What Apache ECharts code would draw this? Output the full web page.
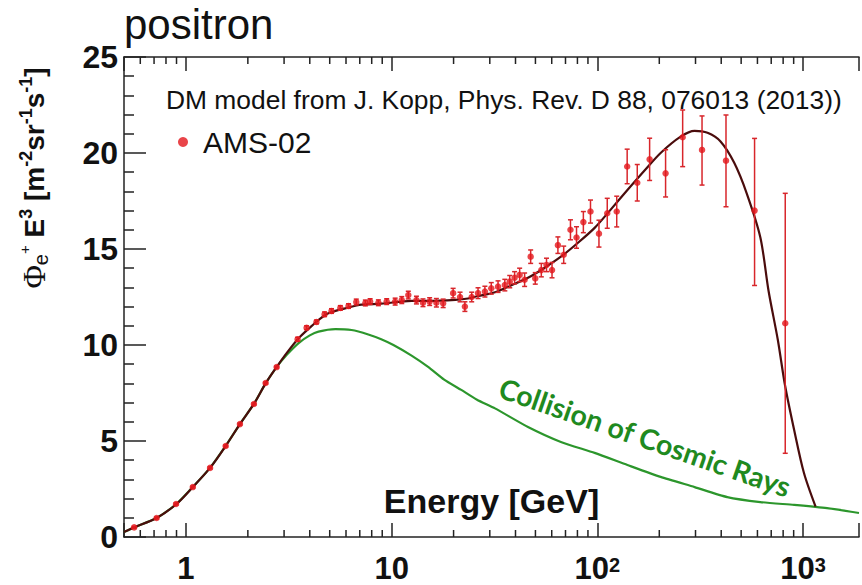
<!DOCTYPE html>
<html>
<head>
<meta charset="utf-8">
<script src="https://cdn.jsdelivr.net/npm/echarts@6/dist/echarts.min.js"></script>
<style>html,body{margin:0;padding:0;background:#fff;}#c{width:862px;height:585px;}</style>
</head>
<body>
<div id="c"></div>
<script>
// ---- AMS-02 positron data (E in GeV, flux*E^3) ----
const energy = [0.56,0.72,0.895,1.08,1.31,1.56,1.83,2.14,2.44,2.76,3.49,3.86,4.31,4.72,5.1,5.63,6.17,6.73,7.45,7.86,8.62,9.46,10.4,11.2,12.05,13.2,14.2,15.3,16.5,17.8,19.9,21.5,22.7,24.5,26.3,28.4,30.5,32.9,35.5,37.5,39.6,41.9,44.3,47.4,49.9,53.4,56.6,60.2,64.3,68.6,74,79.2,85.5,92.6,101.8,111.7,124.2,139.6,156.3,179.5,214.6,259.8,322.7,422,581,819];
const flux   = [0.5,0.99,1.72,2.6,3.6,4.74,5.88,6.93,8.02,8.85,10.3,10.9,11.2,11.6,11.77,11.93,12.03,12.24,12.19,12.26,12.2,12.26,12.26,12.34,12.6,12.34,12.2,12.26,12.2,12.17,12.7,12.5,12.0,12.5,12.7,12.78,12.95,13.04,13.12,13.3,13.5,13.65,13.4,14.6,13.47,13.9,14.17,13.9,15.2,14.7,16.0,15.6,16.4,16.95,15.8,16.86,16.95,19.3,18.45,19.67,18.94,20.82,20.16,19.6,17.0,11.13];
const errDown = [0.05,0.05,0.05,0.05,0.05,0.05,0.05,0.05,0.05,0.05,0.1,0.1,0.1,0.12,0.12,0.12,0.12,0.15,0.15,0.15,0.15,0.15,0.18,0.18,0.2,0.2,0.2,0.2,0.22,0.22,0.25,0.25,0.25,0.25,0.28,0.28,0.3,0.3,0.3,0.32,0.32,0.35,0.35,0.35,0.3,0.35,0.35,0.4,0.43,0.45,0.52,0.56,0.55,0.6,0.7,0.78,0.8,0.9,0.95,1.1,1.23,1.53,1.83,2.4,3.9,6.77];
const errUp   = [0.05,0.05,0.05,0.05,0.05,0.05,0.05,0.05,0.05,0.05,0.1,0.1,0.1,0.12,0.12,0.12,0.12,0.15,0.15,0.15,0.15,0.15,0.18,0.18,0.2,0.2,0.2,0.2,0.22,0.22,0.25,0.25,0.25,0.25,0.28,0.28,0.3,0.3,0.3,0.32,0.32,0.35,0.35,0.35,0.3,0.35,0.35,0.4,0.43,0.45,0.52,0.56,0.55,0.6,0.7,0.78,0.8,0.9,0.95,1.1,1.23,1.42,1.77,2.38,3.76,6.77];

// ---- Background: collision of cosmic rays (green) ----
const bgEnergy = [0.5,0.56,0.72,0.9,1.08,1.31,1.56,1.83,2.14,2.44,2.76,3.1,3.53,4.0,4.41,5.33,6.38,7.7,8.9,10.2,12.5,15.1,18,21.8,26,31.8,46,66.5,97,140,203,297,428,620,905,1309,1870];
const bgFlux   = [0.26,0.5,0.99,1.72,2.6,3.6,4.74,5.88,6.93,8.0,8.85,9.5,10.1,10.5,10.7,10.83,10.78,10.55,10.3,10.0,9.45,8.85,8.2,7.66,7.15,6.7,5.73,4.95,4.38,3.75,3.13,2.6,2.08,1.82,1.67,1.5,1.25];

// ---- DM model + background (dark red) ----
const totEnergy = [0.5,0.56,0.72,0.9,1.08,1.31,1.56,1.83,2.14,2.44,2.76,3.1,3.53,4.0,4.41,4.93,6.17,7.13,8.9,12.5,15,20.4,23.5,26.3,31.8,38,46,55,66.5,80,97,115,140,170,203,254,297,343,397,462,532,620,680,754,817,905,1010,1150];
const totFlux   = [0.26,0.5,0.99,1.72,2.6,3.6,4.74,5.88,6.93,8.0,8.85,9.6,10.35,10.9,11.3,11.65,11.95,12.1,12.15,12.3,12.3,12.35,12.42,12.55,12.75,13.1,13.5,14.0,14.6,15.3,16.1,17.0,18.07,19.1,20.0,20.85,21.15,21.05,20.6,19.5,17.9,15.6,12.8,10.26,7.9,5.57,3.33,1.58];

// ---- Axes ----
const xMin = 0.5, xMax = 1870;
const yMin = 0, yMax = 25, yStep = 5;
const xTickValues = [1, 10, 100, 1000];
const xTickLabels = ['{b|1}', '{b|10}', '{b|10}{s|2}', '{b|10}{s|3}'];
const xMinorTicks = [0.6,0.7,0.8,0.9,2,3,4,5,6,7,8,9,20,30,40,50,60,70,80,90,200,300,400,500,600,700,800,900];

const AXIS = '#222';
const RED = '#e3161c';
const ERR = '#d8262b';
const DARK = '#4a0c0c';
const GREEN = '#2c962c';

const chart = echarts.init(document.getElementById('c'), null, {renderer: 'svg'});

function xLabel(v) {
  for (let i = 0; i < xTickValues.length; i++) {
    if (Math.abs(Math.log10(v) - Math.log10(xTickValues[i])) < 1e-6) return xTickLabels[i];
  }
  return '';
}

const option = {
  animation: false,
  backgroundColor: '#fff',
  title: {
    text: 'positron', left: 124, top: 3, padding: 0,
    textStyle: {fontSize: 42, lineHeight: 42, fontWeight: 'normal', color: '#111', fontFamily: 'Liberation Sans'}
  },
  legend: {
    data: ['AMS-02'], left: 178, top: 127, padding: 0,
    icon: 'circle', itemWidth: 10, itemHeight: 10,
    textStyle: {fontSize: 30, color: '#111', fontFamily: 'Liberation Sans', padding: [20, 0, 0, 10]}
  },
  grid: {left: 124, top: 57, right: 0, bottom: 48, containLabel: false},
  xAxis: [{
    type: 'log', logBase: 10, min: xMin, max: xMax, position: 'bottom',
    name: 'Energy [GeV]', nameLocation: 'middle', nameGap: -53,
    nameTextStyle: {fontSize: 34, fontWeight: 'bold', color: '#111', fontFamily: 'Liberation Sans'},
    axisLine: {show: true, lineStyle: {color: AXIS, width: 1.5}},
    axisTick: {show: true, inside: true, length: 14, lineStyle: {color: AXIS, width: 1.5}},
    minorTick: {show: false},
    splitLine: {show: false},
    axisLabel: {
      margin: 18, formatter: xLabel,
      rich: {
        b: {fontSize: 31, fontWeight: 'bold', color: '#111', fontFamily: 'Liberation Sans', lineHeight: 26},
        s: {fontSize: 20, fontWeight: 'bold', color: '#111', fontFamily: 'Liberation Sans', verticalAlign: 'top', lineHeight: 16}
      }
    }
  }, {
    type: 'log', logBase: 10, min: xMin, max: xMax, position: 'top',
    axisLine: {show: true, lineStyle: {color: AXIS, width: 1.5}},
    axisTick: {show: true, inside: true, length: 14, lineStyle: {color: AXIS, width: 1.5}},
    axisLabel: {show: false},
    splitLine: {show: false}
  }],
  yAxis: {
    type: 'value', min: yMin, max: yMax, interval: yStep,
    axisLine: {show: true, lineStyle: {color: AXIS, width: 1.5}},
    axisTick: {show: true, inside: true, length: 22, lineStyle: {color: AXIS, width: 1.5}},
    minorTick: {show: true, splitNumber: 5, length: 10, lineStyle: {color: AXIS, width: 1.5}},
    splitLine: {show: false},
    axisLabel: {margin: 6, fontSize: 32, fontWeight: 'bold', color: '#111', fontFamily: 'Liberation Sans'}
  },
  graphic: [{
    type: 'text', x: 166, y: 100,
    style: {text: 'DM model from J. Kopp, Phys. Rev. D 88, 076013 (2013))', fontSize: 26.4, fontFamily: 'Liberation Sans', fill: '#111', align: 'left', verticalAlign: 'middle'}
  }, {
    type: 'text', x: 645, y: 437, rotation: -19.2 * Math.PI / 180,
    style: {text: 'Collision of Cosmic Rays', fontSize: 28.5, fontWeight: 'bold', fontFamily: 'Lato', fill: '#1f8a1f', align: 'center', verticalAlign: 'middle'}
  }, {
    type: 'text', x: 34, y: 178, rotation: Math.PI / 2,
    style: {
      text: '{phi|Φ}{sub|e}{sp|+}{b| E}{sup|3}{b| [m}{sup|-2}{b|sr}{sup|-1}{b|s}{sup|-1}{b|]}',
      align: 'center', verticalAlign: 'middle', fill: '#111',
      rich: {
        phi: {fontSize: 32, fontFamily: 'Liberation Serif', fill: '#111', lineHeight: 34},
        sub: {fontSize: 20, fontFamily: 'Liberation Sans', fill: '#111', verticalAlign: 'bottom', lineHeight: 20},
        sp: {fontSize: 15, fontFamily: 'Liberation Sans', fill: '#111', verticalAlign: 'top', lineHeight: 26},
        b: {fontSize: 28, fontWeight: 'bold', fontFamily: 'Liberation Sans', fill: '#111', lineHeight: 34},
        sup: {fontSize: 18, fontWeight: 'bold', fontFamily: 'Liberation Sans', fill: '#111', verticalAlign: 'top', lineHeight: 18}
      }
    }
  }],
  series: [{
    name: 'Collision of Cosmic Rays', type: 'line', xAxisIndex: 0,
    data: bgEnergy.map((e, i) => [e, bgFlux[i]]),
    showSymbol: false, smooth: 0.2, lineStyle: {color: GREEN, width: 2.2}, z: 2
  }, {
    name: 'DM model', type: 'line', xAxisIndex: 0,
    data: totEnergy.map((e, i) => [e, totFlux[i]]),
    showSymbol: false, smooth: 0.3, lineStyle: {color: DARK, width: 2.2}, z: 3
  }, {
    name: 'AMS-02 errors', type: 'custom', xAxisIndex: 0, silent: true, z: 4,
    data: energy.map((e, i) => [e, flux[i], errDown[i], errUp[i]]),
    encode: {x: 0, y: 1},
    renderItem: function (params, api) {
      const x = api.value(0), v = api.value(1), lo = api.value(2), hi = api.value(3);
      const a = api.coord([x, v - lo]);
      const b = api.coord([x, v + hi]);
      const c = 2.5;
      const st = {stroke: ERR, lineWidth: 1.5};
      return {type: 'group', children: [
        {type: 'line', shape: {x1: a[0], y1: a[1], x2: b[0], y2: b[1]}, style: st},
        {type: 'line', shape: {x1: a[0] - c, y1: a[1], x2: a[0] + c, y2: a[1]}, style: st},
        {type: 'line', shape: {x1: b[0] - c, y1: b[1], x2: b[0] + c, y2: b[1]}, style: st}
      ]};
    }
  }, {
    name: 'AMS-02', type: 'scatter', xAxisIndex: 0,
    data: energy.map((e, i) => [e, flux[i]]),
    symbol: 'circle', symbolSize: 6.5, itemStyle: {color: RED}, z: 5
  }, {
    name: 'minor ticks', type: 'custom', xAxisIndex: 0, silent: true, z: 6, clip: false,
    data: xMinorTicks.map(v => [v, yMin]),
    encode: {x: 0, y: 1},
    renderItem: function (params, api) {
      const x = api.value(0);
      const p = api.coord([x, yMin]);
      const q = api.coord([x, yMax]);
      const st = {stroke: AXIS, lineWidth: 1.5};
      return {type: 'group', children: [
        {type: 'line', shape: {x1: p[0], y1: p[1], x2: p[0], y2: p[1] - 7}, style: st},
        {type: 'line', shape: {x1: q[0], y1: q[1], x2: q[0], y2: q[1] + 7}, style: st}
      ]};
    }
  }]
};
chart.setOption(option);
</script>
</body>
</html>
